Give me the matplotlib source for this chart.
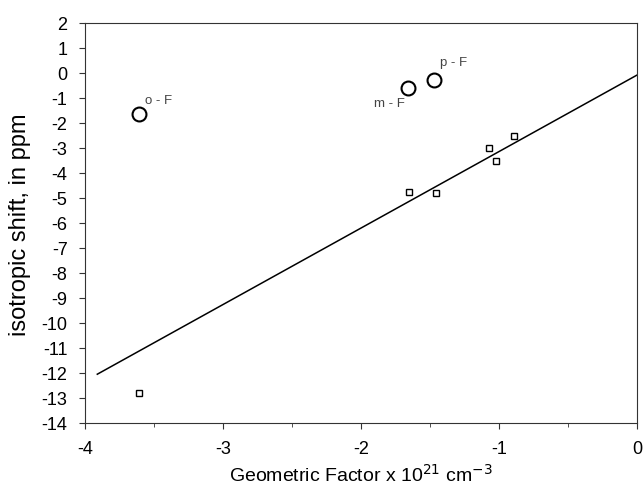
import numpy as np
import matplotlib
matplotlib.use("Agg")
import matplotlib.pyplot as plt
from matplotlib.ticker import MultipleLocator

plt.rcParams['font.family'] = ['Liberation Sans', 'DejaVu Sans']

# square points (fitted set)
sq_x = [-3.61, -1.65, -1.46, -1.07, -1.02, -0.89]
sq_y = [-12.8, -4.76, -4.8, -3.0, -3.52, -2.52]

# fluoro isomers (open circles)
circ_x = [-3.61, -1.66, -1.47]
circ_y = [-1.66, -0.6, -0.28]
circ_lab = ['o - F', 'm - F', 'p - F']

# regression line endpoints
line_x = [-3.91, 0.0]
line_y = [-12.05, -0.08]

fig = plt.figure(figsize=(6.43, 4.89), dpi=100)
ax = fig.add_axes([0.132, 0.133, 0.859, 0.818])

ax.plot(line_x, line_y, color='black', lw=1.1)
ax.plot(sq_x, sq_y, ls='none', marker='s', ms=5, mfc='white', mec='black', mew=1.0)
ax.plot(circ_x, circ_y, ls='none', marker='o', ms=10, mfc='white', mec='black', mew=1.5)

# label offsets in pixels and horizontal alignment
offsets = [(6, 14), (-3, -15), (6, 18)]
aligns = ['left', 'right', 'left']
for x, y, t, off, ha in zip(circ_x, circ_y, circ_lab, offsets, aligns):
    ax.annotate(t, (x, y), xytext=off, textcoords='offset pixels',
                ha=ha, va='center', fontsize=9.5, color='#444444')

ax.set_xlim(-4, 0)
ax.set_ylim(-14, 2)
ax.set_xticks([-4, -3, -2, -1, 0])
ax.set_xticklabels(['-4', '-3', '-2', '-1', '0'])
ax.set_yticks(np.arange(-14, 3, 1))
ax.set_yticklabels([str(v) for v in range(-14, 3)])
ax.xaxis.set_minor_locator(MultipleLocator(0.5))
ax.tick_params(axis='both', which='both', direction='out', top=False, right=False,
               labelsize=13, color='#333333')
ax.tick_params(which='major', length=4.5)
ax.tick_params(which='minor', length=3)
ax.tick_params(axis='y', pad=8)
ax.tick_params(axis='x', pad=8)
for s in ax.spines.values():
    s.set_color('#333333')

ax.set_xlabel('Geometric Factor x 10$^{21}$ cm$^{-3}$', fontsize=14, labelpad=4)
ax.set_ylabel('isotropic shift, in ppm', fontsize=17)
ax.yaxis.set_label_coords(-0.098, 0.4975)

fig.savefig('out.png', dpi=100)
